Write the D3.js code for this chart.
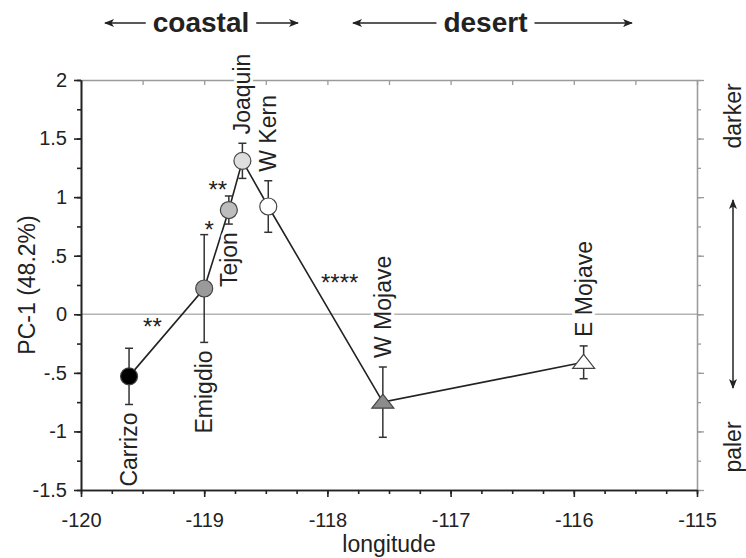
<!DOCTYPE html>
<html>
<head>
<meta charset="utf-8">
<script src="https://cdn.jsdelivr.net/npm/d3@7"></script>
<style>
  body { margin: 0; background: #fff; }
  svg { display: block; }
  text { font-family: "Liberation Sans", Arial, Helvetica, sans-serif; fill: #222; }
</style>
</head>
<body>
<div id="chart"></div>
<script>
"use strict"

// population means of PC-1 along longitude
let populations = ["Carrizo", "Emigdio", "Tejon", "Joaquin", "W Kern", "W Mojave", "E Mojave"];
let longitudes = [-119.61, -119.0, -118.80, -118.69, -118.48, -117.55, -115.92];
let pc1Means = [-0.53, 0.22, 0.89, 1.31, 0.92, -0.75, -0.41];
let pc1Errors = [0.24, 0.46, 0.12, 0.15, 0.22, 0.30, 0.14];
let markerShapes = ["circle", "circle", "circle", "circle", "circle", "triangle", "triangle"];
let markerFills = ["#000000", "#9a9a9a", "#bdbdbd", "#dedede", "#ffffff", "#8c8c8c", "#ffffff"];
let labelSides = ["below", "below", "below", "above", "above", "above", "above"];

let xTicks = [-120, -119, -118, -117, -116, -115];
let xTickLabels = ["-120", "-119", "-118", "-117", "-116", "-115"];
let yTicks = [2, 1.5, 1, 0.5, 0, -0.5, -1, -1.5];
let yTickLabels = ["2", "1.5", "1", ".5", "0", "-.5", "-1", "-1.5"];

// significance marks between neighbours
let starMarks = ["**", "*", "**", "****"];
let starLon = [-119.42, -118.96, -118.89, -117.90];
let starPc = [-0.07, 0.76, 1.10, 0.31];

// regions along the top
let regionNames = ["coastal", "desert"];
let regionTextLon = [-119.026, -116.717];
let regionFrom = [-119.805, -117.792];
let regionTo = [-118.239, -115.528];

let width = 746;
let height = 558;
let plotLeft = 81, plotRight = 697, plotTop = 80, plotBottom = 490;

let x = d3.scaleLinear().domain([-120, -115]).range([plotLeft, plotRight]);
let y = d3.scaleLinear().domain([-1.5, 2]).range([plotBottom, plotTop]);

let svg = d3.select("#chart")
    .append("svg")
    .attr("width", width)
    .attr("height", height);

svg.append("defs").append("marker")
    .attr("id", "head")
    .attr("viewBox", "0 0 10 10")
    .attr("refX", 9).attr("refY", 5)
    .attr("markerWidth", 10).attr("markerHeight", 10)
    .attr("markerUnits", "userSpaceOnUse")
    .attr("orient", "auto-start-reverse")
    .append("path")
    .attr("d", "M0,1 L10,5 L0,9 L2.5,5 Z")
    .attr("fill", "#222");

// zero line
svg.append("line")
    .attr("x1", plotLeft).attr("x2", plotRight)
    .attr("y1", y(0)).attr("y2", y(0))
    .attr("stroke", "#b4b4b4")
    .attr("stroke-width", 1.5);

let quarterX = d3.range(-120, -114.99, 0.25);
let quarterY = d3.range(-1.5, 2.01, 0.25);
let halfX = d3.range(-120, -114.99, 0.5);

function styleAxis(g, color, w) {
    g.selectAll("path.domain").attr("stroke", color).attr("stroke-width", w);
    g.selectAll(".tick line").attr("stroke", color).attr("stroke-width", w);
}

// top and right frame (grey)
let topAxis = svg.append("g").attr("transform", `translate(0,${plotTop})`)
    .call(d3.axisBottom(x).tickValues(halfX).tickSize(5).tickSizeOuter(0).tickFormat(""));
styleAxis(topAxis, "#9a9a9a", 1.3);

let rightMinor = svg.append("g").attr("transform", `translate(${plotRight},0)`)
    .call(d3.axisRight(y).tickValues(quarterY).tickSize(4).tickSizeOuter(0).tickFormat(""));
styleAxis(rightMinor, "#9a9a9a", 1.3);
let rightMajor = svg.append("g").attr("transform", `translate(${plotRight},0)`)
    .call(d3.axisRight(y).tickValues(yTicks).tickSize(7).tickSizeOuter(0).tickFormat(""));
styleAxis(rightMajor, "#9a9a9a", 1.3);

// left axis
let leftMinor = svg.append("g").attr("transform", `translate(${plotLeft},0)`)
    .call(d3.axisLeft(y).tickValues(quarterY).tickSize(4).tickSizeOuter(0).tickFormat(""));
styleAxis(leftMinor, "#222", 1.6);
let leftMajor = svg.append("g").attr("transform", `translate(${plotLeft},0)`)
    .call(d3.axisLeft(y).tickValues(yTicks).tickSize(7).tickSizeOuter(0).tickPadding(7)
        .tickFormat((d, i) => yTickLabels[i]));
styleAxis(leftMajor, "#222", 1.6);
leftMajor.selectAll("text").attr("font-size", 20).attr("font-family", null).attr("fill", "#222");

// bottom axis
let bottomMinor = svg.append("g").attr("transform", `translate(0,${plotBottom})`)
    .call(d3.axisBottom(x).tickValues(quarterX).tickSize(4).tickSizeOuter(0).tickFormat(""));
styleAxis(bottomMinor, "#222", 1.6);
let bottomMajor = svg.append("g").attr("transform", `translate(0,${plotBottom})`)
    .call(d3.axisBottom(x).tickValues(xTicks).tickSize(7).tickSizeOuter(0).tickPadding(16)
        .tickFormat((d, i) => xTickLabels[i]));
styleAxis(bottomMajor, "#222", 1.6);
bottomMajor.selectAll("text").attr("font-size", 20).attr("font-family", null).attr("fill", "#222");

// axis titles
svg.append("text")
    .attr("x", (plotLeft + plotRight) / 2)
    .attr("y", 552)
    .attr("text-anchor", "middle")
    .attr("font-size", 23)
    .text("longitude");

svg.append("text")
    .attr("transform", `translate(35,${(plotTop + plotBottom) / 2}) rotate(-90)`)
    .attr("text-anchor", "middle")
    .attr("font-size", 23)
    .text("PC-1 (48.2%)");

// right side darker / paler
svg.append("text")
    .attr("transform", "translate(741,116) rotate(-90)")
    .attr("text-anchor", "middle")
    .attr("font-size", 23)
    .text("darker");
svg.append("text")
    .attr("transform", "translate(741,447) rotate(-90)")
    .attr("text-anchor", "middle")
    .attr("font-size", 23)
    .text("paler");
svg.append("line")
    .attr("x1", 733).attr("x2", 733)
    .attr("y1", 200).attr("y2", 388)
    .attr("stroke", "#222").attr("stroke-width", 1.5)
    .attr("marker-start", "url(#head)")
    .attr("marker-end", "url(#head)");

// region headings
regionNames.forEach((name, i) => {
    let t = svg.append("text")
        .attr("x", x(regionTextLon[i]))
        .attr("y", 32)
        .attr("text-anchor", "middle")
        .attr("font-size", 28)
        .attr("font-weight", "bold")
        .text(name);
    let half = t.node().getComputedTextLength() / 2;
    let cx = x(regionTextLon[i]);
    svg.append("line")
        .attr("x1", cx - half - 7).attr("x2", x(regionFrom[i]))
        .attr("y1", 23).attr("y2", 23)
        .attr("stroke", "#222").attr("stroke-width", 1.5)
        .attr("marker-end", "url(#head)");
    svg.append("line")
        .attr("x1", cx + half + 7).attr("x2", x(regionTo[i]))
        .attr("y1", 23).attr("y2", 23)
        .attr("stroke", "#222").attr("stroke-width", 1.5)
        .attr("marker-end", "url(#head)");
});

let points = populations.map((p, i) => ({
    name: p, lon: longitudes[i], mean: pc1Means[i], err: pc1Errors[i],
    shape: markerShapes[i], fill: markerFills[i], side: labelSides[i]
}));

// connecting line
svg.append("path")
    .datum(points)
    .attr("d", d3.line().x(d => x(d.lon)).y(d => y(d.mean)))
    .attr("fill", "none")
    .attr("stroke", "#222")
    .attr("stroke-width", 1.6);

// error bars
let bars = svg.append("g").attr("stroke", "#333").attr("stroke-width", 1.5);
points.forEach(d => {
    let cx = x(d.lon);
    bars.append("line").attr("x1", cx).attr("x2", cx)
        .attr("y1", y(d.mean + d.err)).attr("y2", y(d.mean - d.err));
    bars.append("line").attr("x1", cx - 4).attr("x2", cx + 4)
        .attr("y1", y(d.mean + d.err)).attr("y2", y(d.mean + d.err));
    bars.append("line").attr("x1", cx - 4).attr("x2", cx + 4)
        .attr("y1", y(d.mean - d.err)).attr("y2", y(d.mean - d.err));
});

// markers
points.forEach(d => {
    let cx = x(d.lon), cy = y(d.mean);
    if (d.shape === "circle") {
        svg.append("circle")
            .attr("cx", cx).attr("cy", cy).attr("r", 8.5)
            .attr("fill", d.fill)
            .attr("stroke", "#444").attr("stroke-width", 1.2);
    } else {
        svg.append("path")
            .attr("d", `M${cx},${cy - 8} L${cx + 11},${cy + 6} L${cx - 11},${cy + 6} Z`)
            .attr("fill", d.fill)
            .attr("stroke", "#444").attr("stroke-width", 1.2);
    }
});

// population labels (rotated, with white knockout)
points.forEach(d => {
    let bx = x(d.lon) + 8;
    let by, anchor;
    if (d.side === "below") {
        by = y(d.mean - d.err) + 8;
        anchor = "end";
    } else {
        by = y(d.mean + d.err) - 9;
        anchor = "start";
    }
    svg.append("text")
        .attr("transform", `translate(${bx},${by}) rotate(-90)`)
        .attr("text-anchor", anchor)
        .attr("font-size", 23)
        .attr("stroke", "#fff")
        .attr("stroke-width", 6)
        .attr("stroke-linejoin", "round")
        .attr("paint-order", "stroke")
        .text(d.name);
});

// significance stars
starMarks.forEach((s, i) => {
    svg.append("text")
        .attr("x", x(starLon[i]))
        .attr("y", y(starPc[i]) + 13)
        .attr("text-anchor", "middle")
        .attr("font-family", "DejaVu Sans")
        .attr("font-size", 24)
        .text(s);
});
</script>
</body>
</html>
